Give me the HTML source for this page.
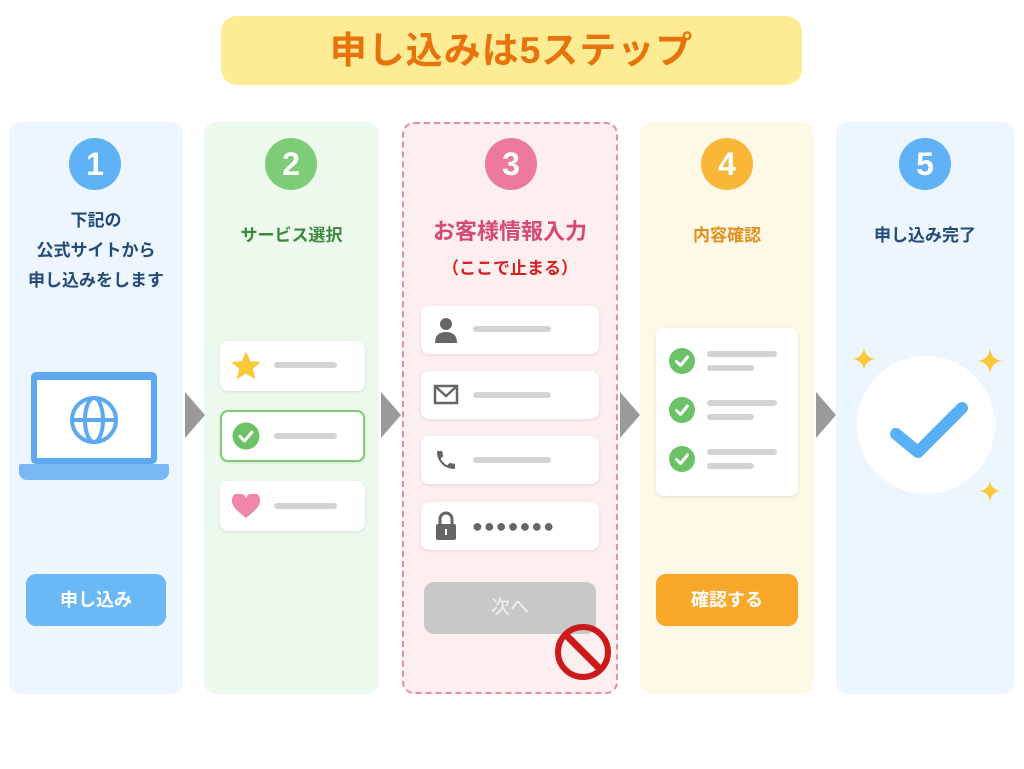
<!DOCTYPE html>
<html><head><meta charset="utf-8"><style>
*{margin:0;padding:0;box-sizing:border-box}
body{width:1024px;height:769px;background:#fff;position:relative;overflow:hidden;font-family:"Liberation Sans","Noto Sans CJK JP",sans-serif}
.a{position:absolute}
.col{position:absolute;top:122px;height:572px;border-radius:12px}
.num{position:absolute;width:52px;height:52px;border-radius:50%;color:#fff;font-weight:bold;font-size:32px;text-align:center;line-height:52px}
.t{position:absolute;text-align:center;font-weight:bold}
.card{position:absolute;background:#fff;border-radius:8px;box-shadow:0 1px 3px rgba(0,0,0,.1)}
.bar{position:absolute;height:6px;border-radius:3px;background:#d3d3d3}
.arr{position:absolute;width:0;height:0;border-top:23px solid transparent;border-bottom:23px solid transparent;border-left:20px solid #9a9a9a;top:392px}
</style></head><body>
<div class="a" style="left:221px;top:16px;width:581px;height:69px;background:#fdec94;border-radius:16px;color:#e8730c;font-size:37px;font-weight:bold;text-align:center;line-height:69px;letter-spacing:1px">申し込みは5ステップ</div>

<div class="col" style="left:9px;width:174px;background:#edf6fe"></div>
<div class="col" style="left:204px;width:175px;background:#eef9ed"></div>
<div class="col" style="left:402px;width:216px;background:#fdeef0;border:2px dashed #e8909a"></div>
<div class="col" style="left:640px;width:174px;background:#fef8e7"></div>
<div class="col" style="left:836px;width:178px;background:#edf6fe"></div>

<div class="arr" style="left:185px"></div>
<div class="arr" style="left:381px"></div>
<div class="arr" style="left:620px"></div>
<div class="arr" style="left:816px"></div>

<div class="num" style="left:69px;top:138px;background:#5eb2f5">1</div>
<div class="num" style="left:265px;top:138px;background:#7fcc78">2</div>
<div class="num" style="left:485px;top:138px;background:#eb7a9c">3</div>
<div class="num" style="left:701px;top:138px;background:#f9b73a">4</div>
<div class="num" style="left:899px;top:138px;background:#5eb2f5">5</div>

<div class="t" style="left:9px;width:174px;top:206px;font-size:17px;line-height:30px;color:#244a7a">下記の<br>公式サイトから<br>申し込みをします</div>
<div class="t" style="left:204px;width:175px;top:221px;font-size:17px;color:#3a8a3a">サービス選択</div>
<div class="t" style="left:402px;width:216px;top:214px;font-size:22px;color:#d44a72">お客様情報入力</div>
<div class="t" style="left:402px;width:216px;top:254px;font-size:17px;color:#d42020">（ここで止まる）</div>
<div class="t" style="left:640px;width:174px;top:221px;font-size:17px;color:#e0901a">内容確認</div>
<div class="t" style="left:836px;width:178px;top:221px;font-size:17px;color:#244a7a">申し込み完了</div>

<!-- laptop -->
<div class="a" style="left:31px;top:372px;width:126px;height:92px;background:#5ea8f2;border-radius:5px"></div>
<div class="a" style="left:37px;top:380px;width:114px;height:78px;background:#fff"></div>
<div class="a" style="left:19px;top:464px;width:150px;height:16px;background:#78b8f5;border-radius:2px 2px 8px 8px"></div>
<svg class="a" style="left:68px;top:394px" width="52" height="52" viewBox="0 0 52 52" fill="none" stroke="#5ea8f2" stroke-width="4"><circle cx="26" cy="26" r="22"/><ellipse cx="26" cy="26" rx="9" ry="22"/><line x1="4" y1="26" x2="48" y2="26"/></svg>
<div class="a" style="left:26px;top:574px;width:140px;height:52px;background:#6ab8f5;border-radius:10px;color:#fff;font-size:18px;font-weight:bold;text-align:center;line-height:52px">申し込み</div>

<!-- col2 -->
<div class="card" style="left:220px;top:341px;width:145px;height:50px"></div>
<svg class="a" style="left:232px;top:352px" width="28" height="27" viewBox="0 0 24 23"><path d="M12 1 L15 8.5 L23 9 L17 14 L19 22 L12 17.5 L5 22 L7 14 L1 9 L9 8.5Z" fill="#f9c93a" stroke="#f9c93a" stroke-width="1.5" stroke-linejoin="round"/></svg>
<div class="bar" style="left:274px;top:362px;width:63px"></div>
<div class="card" style="left:220px;top:410px;width:145px;height:52px;border:2px solid #7ccc70"></div>
<svg class="a" style="left:232px;top:422px" width="28" height="28"><circle cx="14" cy="14" r="13.5" fill="#6cc266"/><path d="M8 14.5 L12.5 19 L20 10" fill="none" stroke="#fff" stroke-width="3" stroke-linecap="round" stroke-linejoin="round"/></svg>
<div class="bar" style="left:274px;top:433px;width:63px"></div>
<div class="card" style="left:220px;top:481px;width:145px;height:50px"></div>
<svg class="a" style="left:232px;top:494px" width="28" height="25" viewBox="0 0 28 25"><path d="M14 24 C4 16 0 12 0 7 A7 7 0 0 1 14 5 A7 7 0 0 1 28 7 C28 12 24 16 14 24Z" fill="#f087a8"/></svg>
<div class="bar" style="left:274px;top:503px;width:63px"></div>

<!-- col3 -->
<div class="card" style="left:421px;top:306px;width:178px;height:48px"></div>
<div class="card" style="left:421px;top:371px;width:178px;height:48px"></div>
<div class="card" style="left:421px;top:436px;width:178px;height:48px"></div>
<div class="card" style="left:421px;top:502px;width:178px;height:48px"></div>
<svg class="a" style="left:433px;top:316px" width="26" height="28"><circle cx="13" cy="8" r="6" fill="#666"/><path d="M2 27 Q2 16 13 16 Q24 16 24 27Z" fill="#666"/></svg>
<svg class="a" style="left:433px;top:384px" width="26" height="22"><rect x="2" y="2" width="22" height="17" fill="none" stroke="#666" stroke-width="2.5"/><path d="M3 3 L13 12 L23 3" fill="none" stroke="#666" stroke-width="2.5"/></svg>
<svg class="a" style="left:434px;top:447px" width="24" height="26" viewBox="0 0 24 24"><path d="M6.6 10.8c1.4 2.8 3.8 5.1 6.6 6.6l2.2-2.2c.3-.3.7-.4 1-.2 1.1.4 2.3.6 3.6.6.6 0 1 .4 1 1V20c0 .6-.4 1-1 1C10.6 21 3 13.4 3 4c0-.6.4-1 1-1h3.5c.6 0 1 .4 1 1 0 1.3.2 2.5.6 3.6.1.3 0 .7-.2 1L6.6 10.8z" fill="#666"/></svg>
<svg class="a" style="left:435px;top:511px" width="22" height="30"><path d="M5 13 V8 a6 6 0 0 1 12 0 V13" fill="none" stroke="#666" stroke-width="3"/><rect x="1" y="13" width="20" height="16" rx="2" fill="#666"/><rect x="10" y="18" width="2" height="6" fill="#fff"/></svg>
<div class="bar" style="left:473px;top:326px;width:78px"></div>
<div class="bar" style="left:473px;top:392px;width:78px"></div>
<div class="bar" style="left:473px;top:457px;width:78px"></div>
<div class="a" style="left:472px;top:513px;font-size:18px;color:#666;letter-spacing:1px;line-height:26px">●●●●●●●</div>
<div class="a" style="left:424px;top:582px;width:172px;height:52px;background:#c8c8c8;border-radius:10px;color:#f4f4f4;font-size:19px;text-align:center;line-height:52px">次へ</div>
<svg class="a" style="left:553px;top:622px" width="60" height="60"><circle cx="30" cy="30" r="25" fill="none" stroke="#cc1a1a" stroke-width="6"/><line x1="13" y1="13" x2="47" y2="47" stroke="#cc1a1a" stroke-width="7"/></svg>

<!-- col4 -->
<div class="card" style="left:656px;top:328px;width:142px;height:168px"></div>
<svg class="a" style="left:669px;top:348px" width="26" height="26"><circle cx="13" cy="13" r="13" fill="#6cc266"/><path d="M7.5 13.5 L11.5 17.5 L18.5 9" fill="none" stroke="#fff" stroke-width="3" stroke-linecap="round" stroke-linejoin="round"/></svg>
<svg class="a" style="left:669px;top:397px" width="26" height="26"><circle cx="13" cy="13" r="13" fill="#6cc266"/><path d="M7.5 13.5 L11.5 17.5 L18.5 9" fill="none" stroke="#fff" stroke-width="3" stroke-linecap="round" stroke-linejoin="round"/></svg>
<svg class="a" style="left:669px;top:446px" width="26" height="26"><circle cx="13" cy="13" r="13" fill="#6cc266"/><path d="M7.5 13.5 L11.5 17.5 L18.5 9" fill="none" stroke="#fff" stroke-width="3" stroke-linecap="round" stroke-linejoin="round"/></svg>
<div class="bar" style="left:707px;top:351px;width:70px"></div><div class="bar" style="left:707px;top:365px;width:47px"></div>
<div class="bar" style="left:707px;top:400px;width:70px"></div><div class="bar" style="left:707px;top:414px;width:47px"></div>
<div class="bar" style="left:707px;top:449px;width:70px"></div><div class="bar" style="left:707px;top:463px;width:47px"></div>
<div class="a" style="left:656px;top:574px;width:142px;height:52px;background:#f9a82a;border-radius:10px;color:#fff;font-size:18px;font-weight:bold;text-align:center;line-height:52px">確認する</div>

<!-- col5 -->
<div class="a" style="left:857px;top:356px;width:138px;height:138px;border-radius:50%;background:#fff"></div>
<svg class="a" style="left:884px;top:392px" width="90" height="70"><path d="M12 42 L34 60 L78 16" fill="none" stroke="#5ab0f5" stroke-width="12" stroke-linecap="round" stroke-linejoin="round"/></svg>
<svg class="a" style="left:852px;top:347px" width="24" height="24"><path d="M12 0 Q13 11 24 12 Q13 13 12 24 Q11 13 0 12 Q11 11 12 0Z" fill="#f9c93a"/></svg>
<svg class="a" style="left:977px;top:348px" width="26" height="26"><path d="M13 0 Q14 12 26 13 Q14 14 13 26 Q12 14 0 13 Q12 12 13 0Z" fill="#f9c93a"/></svg>
<svg class="a" style="left:979px;top:480px" width="22" height="22"><path d="M11 0 Q12 10 22 11 Q12 12 11 22 Q10 12 0 11 Q10 10 11 0Z" fill="#f9c93a"/></svg>
</body></html>
